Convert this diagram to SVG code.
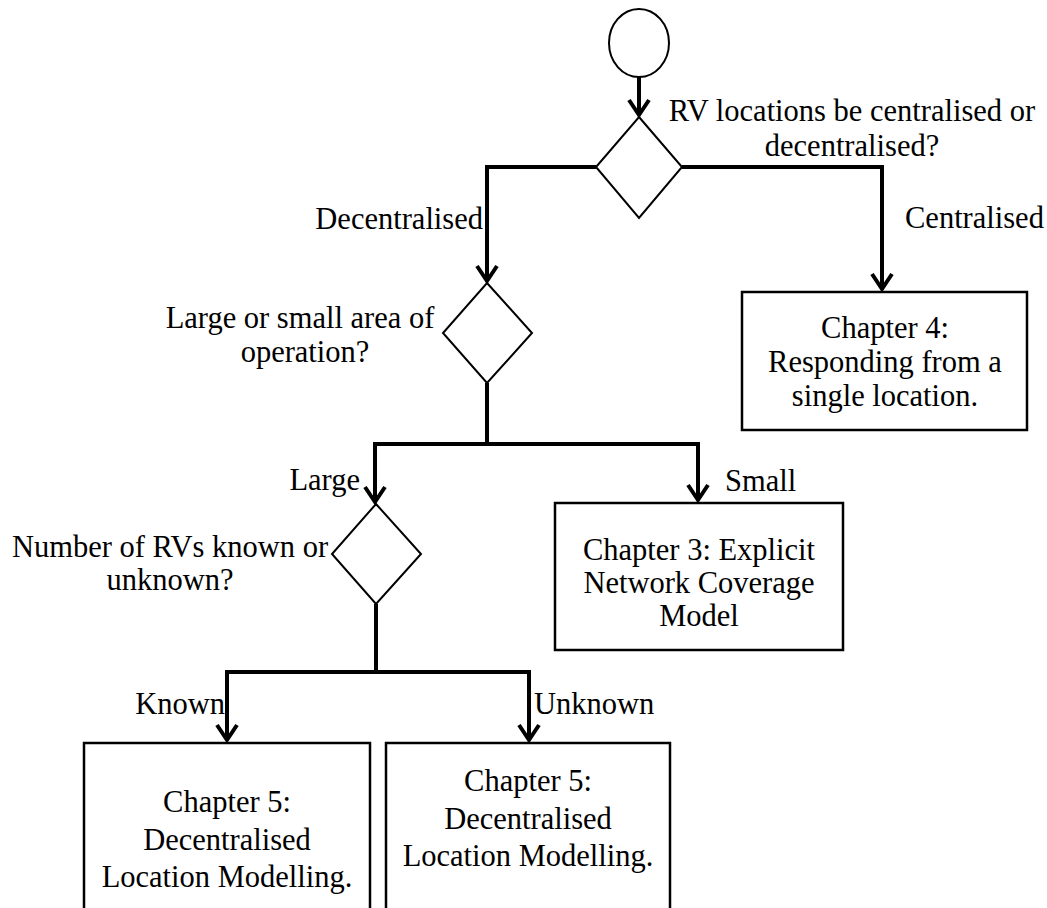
<svg xmlns="http://www.w3.org/2000/svg" width="1047" height="908" viewBox="0 0 1047 908">
  <style>
    .shape { fill: #ffffff; stroke: #000000; stroke-width: 2; }
    .box { fill: #ffffff; stroke: #000000; stroke-width: 2.5; }
    .flow { fill: none; stroke: #000000; stroke-width: 4; stroke-linejoin: miter; }
    .arrow { fill: none; stroke: #000000; stroke-width: 4; marker-end: url(#vhead); }
    text { font-family: "Liberation Serif", "Times New Roman", serif; font-size: 30.5px; fill: #000000; }
    .mid { text-anchor: middle; }
    .end { text-anchor: end; }
  </style>
  <defs>
    <marker id="vhead" markerUnits="userSpaceOnUse" viewBox="-18 -12 20 24" markerWidth="20" markerHeight="24" refX="0" refY="0" orient="auto" overflow="visible">
      <path d="M-15,-10 L0,0 L-15,10" fill="none" stroke="#000000" stroke-width="4" stroke-linejoin="miter"/>
    </marker>
  </defs>

  <!-- connectors -->
  <g id="connectors">
    <line class="arrow" x1="639" y1="77" x2="639" y2="115"/>
    <polyline class="arrow" points="596,167 487,167 487,281"/>
    <polyline class="arrow" points="682,167 882,167 882,289"/>
    <line class="flow" x1="487" y1="383" x2="487" y2="444"/>
    <polyline class="arrow" points="487,444 375,444 375,502"/>
    <polyline class="arrow" points="487,444 698,444 698,500"/>
    <line class="flow" x1="376" y1="604" x2="376" y2="672"/>
    <polyline class="arrow" points="376,672 227,672 227,740"/>
    <polyline class="arrow" points="376,672 529,672 529,740"/>
  </g>

  <!-- start -->
  <g id="start">
    <ellipse class="shape" cx="639" cy="43" rx="30" ry="34"/>
  </g>

  <!-- decisions -->
  <g id="decision-centralised">
    <polygon class="shape" points="639,117 682,167 639,218 596,167"/>
    <text class="mid" x="852" y="121">RV locations be centralised or</text>
    <text class="mid" x="852" y="156">decentralised?</text>
  </g>
  <g id="label-decentralised">
    <text class="end" x="483" y="229">Decentralised</text>
  </g>
  <g id="label-centralised">
    <text x="905" y="228">Centralised</text>
  </g>

  <g id="decision-area">
    <polygon class="shape" points="487,283 532,333 487,383 443,333"/>
    <text class="mid" x="300" y="328">Large or small area of</text>
    <text class="mid" x="305" y="362">operation?</text>
  </g>
  <g id="label-large">
    <text class="end" x="360" y="490">Large</text>
  </g>
  <g id="label-small">
    <text x="725" y="491">Small</text>
  </g>

  <g id="decision-number">
    <polygon class="shape" points="376,504 421,554 376,604 332,554"/>
    <text class="mid" x="170" y="557">Number of RVs known or</text>
    <text class="mid" x="170" y="590">unknown?</text>
  </g>
  <g id="label-known">
    <text class="end" x="225" y="714">Known</text>
  </g>
  <g id="label-unknown">
    <text x="534" y="714">Unknown</text>
  </g>

  <!-- outcomes -->
  <g id="chapter-4">
    <rect class="box" x="742" y="292" width="285" height="138"/>
    <text class="mid" x="885" y="338">Chapter 4:</text>
    <text class="mid" x="885" y="372">Responding from a</text>
    <text class="mid" x="885" y="406">single location.</text>
  </g>

  <g id="chapter-3">
    <rect class="box" x="555" y="503" width="288" height="147"/>
    <text class="mid" x="699" y="560">Chapter 3: Explicit</text>
    <text class="mid" x="699" y="593">Network Coverage</text>
    <text class="mid" x="699" y="626">Model</text>
  </g>

  <g id="chapter-5-known">
    <rect class="box" x="84" y="743" width="286" height="200"/>
    <text class="mid" x="227" y="812">Chapter 5:</text>
    <text class="mid" x="227" y="850">Decentralised</text>
    <text class="mid" x="227" y="887">Location Modelling.</text>
  </g>

  <g id="chapter-5-unknown">
    <rect class="box" x="386" y="743" width="284" height="200"/>
    <text class="mid" x="528" y="791">Chapter 5:</text>
    <text class="mid" x="528" y="829">Decentralised</text>
    <text class="mid" x="528" y="866">Location Modelling.</text>
  </g>
</svg>
